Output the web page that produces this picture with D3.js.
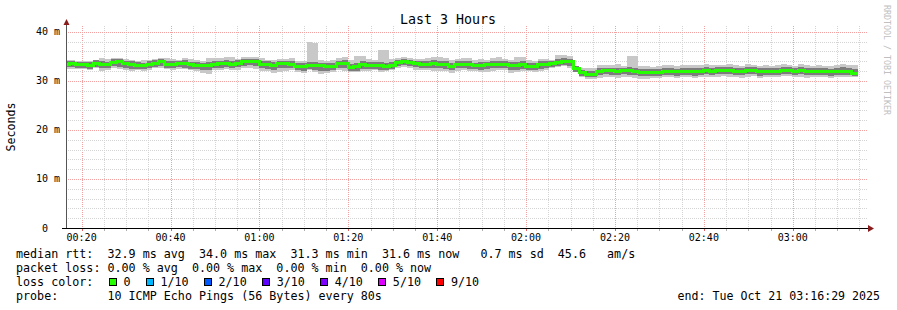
<!DOCTYPE html>
<html>
<head>
<meta charset="utf-8">
<script src="https://cdn.jsdelivr.net/npm/d3@7"></script>
<style>
  body { margin: 0; background: #fff; }
  svg { display: block; }
  text { font-family: "DejaVu Sans Mono", monospace; white-space: pre; }
</style>
</head>
<body>
<script>
'use strict';

// time window and sampling of the probe
const viewStart = new Date(2025, 9, 21, 0, 16, 29);
const viewEnd = new Date(2025, 9, 21, 3, 16, 29);
const stepStart = new Date(2025, 9, 21, 0, 15, 56);
const stepSeconds = 80;

// median rtt per step (ms)
const medianRtt = [33.4,
  33.5,33.4,33.3,33.1,33.6,33.4,33.3,33.8,33.9,33.5,33.4,33.1,33.1,33.4,33.6,33.9,33.4,33.4,33.5,33.5,33.3,33.1,33.1,33.1,33.3,33.5,33.5,
  33.4,33.6,33.9,34.0,33.9,33.4,33.4,33.1,33.5,33.5,33.4,33.0,32.9,33.1,33.1,33.1,32.9,32.9,33.5,33.5,32.8,32.9,33.3,33.1,33.1,33.1,33.0,
  33.1,33.8,33.9,33.8,33.5,33.4,33.4,33.5,33.4,33.3,32.9,33.4,33.4,33.3,33.1,33.1,33.3,33.3,33.4,33.4,33.1,33.1,33.3,33.0,32.9,33.3,33.4,
  33.5,33.7,33.9,33.9,32.6,31.7,31.3,31.4,31.9,32.1,32.1,31.9,32.1,32.1,32.0,31.8,31.7,31.8,31.8,32.0,32.0,31.9,32.0,31.9,31.9,32.0,32.1,
  32.0,32.1,32.2,32.2,32.0,32.0,32.1,32.2,31.9,32.0,32.0,32.0,32.1,32.2,32.0,32.2,32.0,32.0,32.0,31.9,31.9,32.0,32.0,32.0,31.6];

// slowest and fastest ping per step (ms)
const pingMax = [34.2,
  34.3,34.1,34.0,34.0,34.3,34.6,34.4,34.6,34.7,34.4,34.3,34.0,34.2,34.3,34.4,34.6,34.7,34.5,34.3,34.7,34.5,34.2,34.1,34.6,34.6,34.7,34.8,
  34.9,34.4,34.9,34.9,34.9,34.6,34.2,34.3,34.4,34.4,34.6,34.0,34.0,38.0,37.8,34.2,34.0,34.2,34.6,34.9,34.3,35.1,35.1,34.4,34.3,36.3,36.3,
  34.5,34.6,34.8,34.6,34.5,34.4,34.7,34.9,34.9,34.6,34.2,34.5,34.7,34.6,34.2,34.4,34.3,34.6,34.8,34.4,34.3,34.8,34.8,34.2,34.0,34.4,34.5,
  34.3,35.3,35.3,35.0,33.1,32.7,32.6,32.6,33.3,33.2,33.2,33.4,33.0,35.1,35.1,33.1,33.0,32.9,33.0,33.3,33.2,33.1,33.2,33.3,33.2,33.3,33.4,
  33.2,33.3,33.2,33.4,33.2,33.1,33.4,33.3,33.0,33.2,33.1,33.2,33.4,33.3,33.1,33.4,33.2,33.0,33.2,33.1,33.0,33.3,33.4,33.2,33.3];

const pingMin = [32.5,
  32.5,32.4,32.4,32.2,32.6,32.1,32.3,32.6,32.4,32.3,32.0,32.2,32.1,32.3,32.6,32.7,32.4,32.2,32.5,32.4,32.3,32.0,31.6,31.5,32.3,32.3,32.5,
  32.2,32.3,32.6,32.7,32.5,32.1,32.0,31.7,31.8,32.1,32.2,31.8,31.7,32.2,31.9,31.4,31.6,31.9,32.2,32.0,31.9,31.8,32.1,32.0,32.2,31.8,32.0,
  32.2,32.6,32.8,32.6,32.3,32.2,32.2,32.1,32.0,32.0,31.7,32.1,32.3,32.1,32.0,31.9,31.8,32.0,32.2,32.2,31.6,31.9,32.1,32.0,31.8,32.0,32.3,
  32.7,32.9,33.0,32.6,31.9,30.7,30.4,30.3,30.6,30.9,30.9,30.5,30.8,30.9,30.6,30.3,30.4,30.5,30.6,30.8,30.9,30.5,30.7,30.8,30.6,30.8,30.9,
  30.8,30.9,31.0,30.7,30.9,30.6,30.9,31.0,30.5,30.8,30.9,30.7,31.0,31.0,30.8,30.9,30.6,30.7,30.8,30.9,30.6,30.7,30.8,30.7,30.9];

// inner pings around the median (ms)
const innerHigh = [34.0,
  34.1,33.9,33.9,33.8,34.2,34.1,33.9,34.4,34.4,34.1,34.0,33.8,33.7,34.1,34.2,34.5,34.1,34.0,34.0,34.2,33.9,33.8,33.7,33.9,34.1,34.1,34.2,
  34.1,34.2,34.4,34.5,34.4,34.1,34.0,33.8,34.1,34.1,34.1,33.7,33.6,33.9,33.8,33.7,33.6,33.6,34.1,34.2,33.5,33.7,34.0,33.8,33.8,33.9,33.7,
  33.8,34.3,34.4,34.3,34.1,34.0,34.1,34.2,34.1,34.0,33.7,34.0,34.1,34.0,33.7,33.8,33.9,34.0,34.1,34.0,33.8,33.9,34.0,33.7,33.6,34.0,34.1,
  34.0,34.4,34.6,34.5,33.0,32.3,32.0,32.1,32.6,32.7,32.7,32.6,32.7,32.9,32.7,32.5,32.4,32.4,32.5,32.6,32.7,32.5,32.6,32.6,32.6,32.7,32.8,
  32.6,32.8,32.8,32.9,32.7,32.6,32.8,32.8,32.6,32.7,32.6,32.7,32.8,32.8,32.7,32.9,32.7,32.6,32.7,32.6,32.5,32.7,32.8,32.7,32.4];

const innerLow = [32.8,
  32.8,32.7,32.7,32.4,32.9,32.6,32.6,33.0,32.9,32.7,32.5,32.4,32.4,32.7,32.9,33.0,32.6,32.6,32.8,32.7,32.5,32.4,32.2,32.2,32.6,32.7,32.8,
  32.7,32.8,33.1,33.2,33.0,32.6,32.5,32.3,32.6,32.7,32.6,32.2,32.1,32.4,32.3,32.1,32.1,32.2,32.7,32.6,32.1,32.1,32.4,32.4,32.4,32.3,32.3,
  32.5,33.1,33.2,33.1,32.8,32.7,32.6,32.7,32.6,32.5,32.2,32.6,32.7,32.5,32.4,32.3,32.5,32.6,32.7,32.7,32.2,32.3,32.5,32.3,32.2,32.5,32.6,
  32.9,33.1,33.3,33.1,31.9,31.0,30.7,30.7,31.2,31.4,31.3,31.2,31.4,31.3,31.2,31.0,31.0,31.1,31.1,31.3,31.3,31.1,31.3,31.2,31.1,31.3,31.4,
  31.3,31.4,31.5,31.4,31.3,31.2,31.4,31.5,31.1,31.3,31.3,31.2,31.4,31.5,31.3,31.4,31.2,31.3,31.3,31.2,31.1,31.3,31.3,31.2,31.0];

// axis ticks and legend texts
const yTicks = [0, 10, 20, 30, 40];
const yTickLabels = ["0  ", "10 m", "20 m", "30 m", "40 m"];
const lossLabels = ["0", "1/10", "2/10", "3/10", "4/10", "5/10", "9/10"];
const lossColors = ["#26ff00", "#00b8ff", "#0059ff", "#5e00ff", "#7e00ff", "#dd00ff", "#ff0000"];
const statLines = [
  "median rtt:  32.9 ms avg  34.0 ms max  31.3 ms min  31.6 ms now   0.7 ms sd  45.6   am/s",
  "packet loss: 0.00 % avg  0.00 % max  0.00 % min  0.00 % now",
  "loss color:",
  "probe:       10 ICMP Echo Pings (56 Bytes) every 80s"
];
const endLabel = "end: Tue Oct 21 03:16:29 2025";

const width = 897, height = 310;
const svg = d3.select('body').append('svg')
  .attr('width', width)
  .attr('height', height);

svg.append('rect').attr('width', width).attr('height', height).attr('fill', '#fff');

const x = d3.scaleTime().domain([viewStart, viewEnd]).range([66, 866]);
const y = d3.scaleLinear().domain([0, 41.2]).range([228, 26]);

// grid
const grid = svg.append('g').attr('shape-rendering', 'crispEdges');
const minorTimes = d3.timeMinute.every(5).range(viewStart, viewEnd);
minorTimes.forEach(t => {
  const major = t.getMinutes() % 20 === 0;
  grid.append('line')
    .attr('x1', Math.round(x(t)) + 0.5).attr('x2', Math.round(x(t)) + 0.5)
    .attr('y1', 26).attr('y2', 228)
    .attr('stroke', major ? '#f2a0a0' : '#d4d4d4')
    .attr('stroke-dasharray', '1,1');
});
d3.range(2, 41, 2).forEach(v => {
  const major = v % 10 === 0;
  grid.append('line')
    .attr('x1', 66).attr('x2', 868)
    .attr('y1', Math.round(y(v)) + 0.5).attr('y2', Math.round(y(v)) + 0.5)
    .attr('stroke', major ? '#f2a0a0' : '#d4d4d4')
    .attr('stroke-dasharray', '1,1');
});

// rows per probe step
const rows = medianRtt.map((m, i) => ({
  t0: d3.timeSecond.offset(stepStart, i * stepSeconds),
  t1: d3.timeSecond.offset(stepStart, (i + 1) * stepSeconds),
  median: m,
  max: pingMax[i],
  min: pingMin[i],
  hi: innerHigh[i],
  lo: innerLow[i]
}));

svg.append('clipPath').attr('id', 'plot')
  .append('rect').attr('x', 66).attr('y', 0).attr('width', 800).attr('height', 228);

const plot = svg.append('g').attr('clip-path', 'url(#plot)');

// smoke: outer pings then inner pings
plot.append('g').attr('shape-rendering', 'crispEdges')
  .selectAll('rect')
  .data(rows)
  .enter()
  .append('rect')
    .attr('x', d => x(d.t0))
    .attr('width', d => x(d.t1) - x(d.t0))
    .attr('y', d => y(d.max))
    .attr('height', d => y(d.min) - y(d.max))
    .attr('fill', '#c8c8c8');

plot.append('g').attr('shape-rendering', 'crispEdges')
  .selectAll('rect')
  .data(rows)
  .enter()
  .append('rect')
    .attr('x', d => x(d.t0))
    .attr('width', d => x(d.t1) - x(d.t0))
    .attr('y', d => y(d.hi))
    .attr('height', d => y(d.lo) - y(d.hi))
    .attr('fill', '#7c7c7c');

// median line coloured by loss (0 loss everywhere)
const medPoints = rows.map(d => [d.t0, d.median]);
medPoints.push([rows[rows.length - 1].t1, rows[rows.length - 1].median]);
const line = d3.line()
  .x(d => x(d[0]))
  .y(d => y(d[1]))
  .curve(d3.curveStepAfter);
plot.append('path')
  .datum(medPoints)
  .attr('d', line)
  .attr('fill', 'none')
  .attr('stroke', lossColors[0])
  .attr('stroke-width', 3)
  .attr('shape-rendering', 'crispEdges');

// axis lines and arrows
const axes = svg.append('g').attr('shape-rendering', 'crispEdges');
axes.append('line')
  .attr('x1', 66.5).attr('x2', 66.5).attr('y1', 228).attr('y2', 24)
  .attr('stroke', '#555');
axes.append('line')
  .attr('x1', 62).attr('x2', 869).attr('y1', 228.5).attr('y2', 228.5)
  .attr('stroke', '#000');
svg.append('path').attr('d', 'M63.5,25 L66.5,19 L69.5,25 Z').attr('fill', '#8b1c1c');
svg.append('path').attr('d', 'M868,225 L874,228.5 L868,232 Z').attr('fill', '#8b1c1c');

// small ticks under x axis
minorTimes.forEach(t => {
  const major = t.getMinutes() % 20 === 0;
  axes.append('line')
    .attr('x1', Math.round(x(t)) + 0.5).attr('x2', Math.round(x(t)) + 0.5)
    .attr('y1', 229).attr('y2', 231)
    .attr('stroke', major ? '#e06060' : '#b0b0b0');
});

// tick labels
const fmt = d3.timeFormat('%H:%M');
svg.append('g').selectAll('text')
  .data(d3.timeMinute.every(20).range(viewStart, viewEnd))
  .enter()
  .append('text')
    .attr('x', d => x(d))
    .attr('y', 241)
    .attr('text-anchor', 'middle')
    .style('font-size', '10px')
    .attr('fill', '#000')
    .text(d => fmt(d));

svg.append('g').selectAll('text')
  .data(yTicks)
  .enter()
  .append('text')
    .attr('x', 60)
    .attr('y', d => y(d) + 3.5)
    .attr('text-anchor', 'end')
    .style('font-size', '10px')
    .attr('fill', '#000')
    .text((d, i) => yTickLabels[i]);

// title, axis title, watermark
svg.append('text')
  .attr('x', 448).attr('y', 24)
  .attr('text-anchor', 'middle')
  .style('font-size', '13.3px')
  .text('Last 3 Hours');

svg.append('text')
  .attr('transform', 'translate(15, 127)rotate(-90)')
  .attr('text-anchor', 'middle')
  .style('font-size', '11.6px')
  .text('Seconds');

svg.append('text')
  .attr('transform', 'translate(884, 5)rotate(90)')
  .style('font-size', '8.3px')
  .attr('fill', '#c0c0c0')
  .text('RRDTOOL / TOBI OETIKER');

// legend
const legendY = [258, 272, 286, 300];
const charW = 7.05;
statLines.forEach((s, i) => {
  svg.append('text')
    .attr('x', 16).attr('y', legendY[i])
    .style('font-size', '11.7px')
    .text(s);
});

let bx = 109;
lossLabels.forEach((lab, i) => {
  svg.append('rect')
    .attr('x', Math.round(bx) + 0.5).attr('y', 278.5)
    .attr('width', 7).attr('height', 7)
    .attr('fill', lossColors[i])
    .attr('stroke', '#000');
  svg.append('text')
    .attr('x', bx + 14.5).attr('y', 286)
    .style('font-size', '11.7px')
    .text(lab);
  bx = bx + 14.5 + lab.length * charW + 15.4;
});

svg.append('text')
  .attr('x', 880).attr('y', 300)
  .attr('text-anchor', 'end')
  .style('font-size', '11.6px')
  .text(endLabel);
</script>
</body>
</html>
